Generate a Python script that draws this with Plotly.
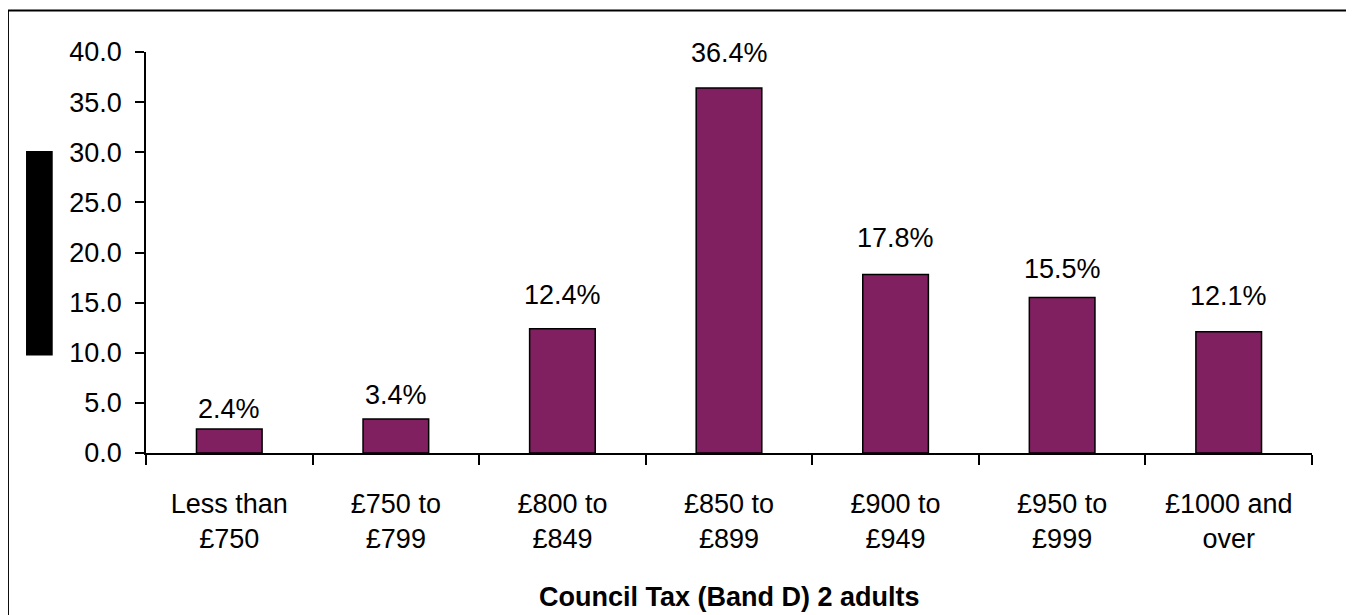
import plotly.graph_objects as go

categories = ["Less than<br>£750", "£750 to<br>£799", "£800 to<br>£849", "£850 to<br>£899",
              "£900 to<br>£949", "£950 to<br>£999", "£1000 and<br>over"]
values = [2.4, 3.4, 12.4, 36.4, 17.8, 15.5, 12.1]
label_texts = ["2.4%", "3.4%", "12.4%", "36.4%", "17.8%", "15.5%", "12.1%"]
y_ticks = [0, 5, 10, 15, 20, 25, 30, 35, 40]
x_title = "Council Tax (Band D) 2 adults"

# style: pixel offsets of value labels above the bar tops
label_shift = [20, 24, 34, 35, 37, 29, 36]

FONT = "Liberation Sans, Arial, sans-serif"
FS = 27

fig = go.Figure()
fig.add_trace(go.Bar(
    x=categories, y=values,
    marker=dict(color="#802060", line=dict(color="black", width=1.5)),
    hoverinfo="skip",
))

annotations = []
for c, v, t, s in zip(categories, values, label_texts, label_shift):
    annotations.append(dict(x=c, y=v, xref="x", yref="y", text=t, showarrow=False,
                            yanchor="middle", yshift=s,
                            font=dict(family=FONT, size=FS, color="black")))
annotations.append(dict(x=0.5, y=-0.358, xref="paper", yref="paper", text="<b>" + x_title + "</b>",
                        showarrow=False, yanchor="middle",
                        font=dict(family=FONT, size=FS, color="black")))

shapes = [
    dict(type="rect", xref="paper", yref="paper", x0=-0.1184, x1=1.0326, y0=-0.45, y1=1.1036,
         line=dict(color="black", width=2), fillcolor="rgba(0,0,0,0)", layer="below"),
    dict(type="rect", xref="paper", yref="paper", x0=-0.1029, x1=-0.080, y0=0.243, y1=0.753,
         line=dict(width=0), fillcolor="black"),
]

fig.update_layout(
    width=1354, height=615,
    margin=dict(l=138, r=50, t=44, b=170, autoexpand=False),
    paper_bgcolor="white", plot_bgcolor="white",
    bargap=0.606,
    showlegend=False,
    font=dict(family=FONT, size=FS, color="black"),
    annotations=annotations,
    shapes=shapes,
    xaxis=dict(type="category", tickson="boundaries", ticks="outside", ticklen=10,
               tickwidth=1.5, tickcolor="black", showline=True, linecolor="black", linewidth=1.5,
               showgrid=False, zeroline=False, automargin=False,
               tickfont=dict(family=FONT, size=FS, color="black"), ticklabelstandoff=26),
    yaxis=dict(range=[0, 40], tickvals=y_ticks, tickformat=".1f", ticks="outside", ticklen=9,
               tickwidth=1.5, tickcolor="black", showline=True, linecolor="black", linewidth=1.5,
               showgrid=False, zeroline=False, automargin=False,
               tickfont=dict(family=FONT, size=FS, color="black"), ticklabelstandoff=8),
)

fig.write_html("out.html")
